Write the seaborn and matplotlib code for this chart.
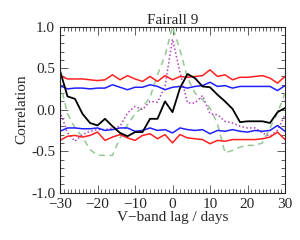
import numpy as np
import pandas as pd
import matplotlib
matplotlib.use('Agg')
import matplotlib.pyplot as plt
import seaborn as sns
from matplotlib.ticker import MultipleLocator

# lag grid (days)
lags = list(range(-30, 31, 2))

black_ccf = [0.47, 0.16, 0.13, -0.05, -0.16, -0.19, -0.11, -0.20, -0.28, -0.32,
             -0.27, -0.27, -0.11, -0.11, 0.10, -0.03, 0.26, 0.43, 0.38, 0.28,
             0.27, 0.18, 0.10, 0.01, -0.15, -0.14, -0.14, -0.14, -0.16, -0.03, 0.02]

red_upper = [0.41, 0.37, 0.37, 0.37, 0.36, 0.35, 0.36, 0.42, 0.36, 0.41,
             0.37, 0.34, 0.40, 0.34, 0.41, 0.36, 0.40, 0.39, 0.40, 0.41,
             0.48, 0.40, 0.42, 0.36, 0.39, 0.39, 0.40, 0.41, 0.38, 0.32, 0.40]

blue_upper = [0.29, 0.25, 0.26, 0.26, 0.25, 0.26, 0.26, 0.30, 0.27, 0.24,
              0.27, 0.27, 0.30, 0.28, 0.24, 0.27, 0.28, 0.26, 0.28, 0.29,
              0.33, 0.28, 0.29, 0.26, 0.28, 0.28, 0.28, 0.28, 0.28, 0.23, 0.29]

blue_lower = [-0.26, -0.22, -0.22, -0.23, -0.23, -0.22, -0.25, -0.24, -0.22, -0.22,
              -0.26, -0.25, -0.22, -0.25, -0.24, -0.28, -0.22, -0.24, -0.25, -0.24,
              -0.29, -0.25, -0.26, -0.24, -0.26, -0.27, -0.25, -0.26, -0.25, -0.19, -0.26]

red_lower = [-0.37, -0.32, -0.31, -0.33, -0.31, -0.27, -0.37, -0.33, -0.30, -0.34,
             -0.37, -0.31, -0.29, -0.35, -0.30, -0.40, -0.30, -0.34, -0.35, -0.36,
             -0.41, -0.37, -0.38, -0.36, -0.36, -0.36, -0.36, -0.35, -0.33, -0.27, -0.36]

green_acf = [0.33, -0.05, -0.22, -0.33, -0.48, -0.55, -0.55, -0.55, -0.34, -0.18,
             -0.05, 0.03, 0.15, 0.42, 0.65, 1.00, 0.72, 0.38, 0.20, 0.12,
             0.02, -0.17, -0.52, -0.49, -0.45, -0.43, -0.43, -0.40, -0.22, -0.04, 0.20]

purple_acf = [-0.02, -0.28, -0.38, -0.30, -0.26, -0.24, -0.24, -0.22, -0.20, -0.04,
              0.04, 0.00, 0.10, 0.09, 0.28, 0.85, 0.45, 0.08, 0.08, 0.17,
              -0.05, -0.06, -0.14, -0.16, -0.20, -0.22, -0.22, -0.28, -0.32, -0.25, -0.06]

df = pd.DataFrame({'lag': lags, 'black': black_ccf, 'red_up': red_upper,
                   'blue_up': blue_upper, 'blue_lo': blue_lower, 'red_lo': red_lower,
                   'green': green_acf, 'purple': purple_acf})

sns.set_style('ticks')
plt.rcParams['font.family'] = ['Liberation Serif', 'DejaVu Serif']
plt.rcParams['axes.linewidth'] = 0.8

fig = plt.figure(figsize=(3.0, 2.4), dpi=100)
ax = fig.add_axes([0.2, 0.197, 0.75, 0.692])

lw = 1.1
sns.lineplot(x='lag', y='green', data=df, ax=ax, color='#96c896', lw=lw, linestyle=(0, (4, 3)))
sns.lineplot(x='lag', y='purple', data=df, ax=ax, color='#b040c0', lw=lw, linestyle=(0, (1, 1.5)))
sns.lineplot(x='lag', y='red_up', data=df, ax=ax, color='#ff2020', lw=lw)
sns.lineplot(x='lag', y='red_lo', data=df, ax=ax, color='#ff2020', lw=lw)
sns.lineplot(x='lag', y='blue_up', data=df, ax=ax, color='#2020ff', lw=lw)
sns.lineplot(x='lag', y='blue_lo', data=df, ax=ax, color='#2020ff', lw=lw)
sns.lineplot(x='lag', y='black', data=df, ax=ax, color='black', lw=1.3)

ax.set_xlim(-30, 30)
ax.set_ylim(-1, 1)
ax.xaxis.set_major_locator(MultipleLocator(10))
ax.xaxis.set_minor_locator(MultipleLocator(1))
ax.yaxis.set_major_locator(MultipleLocator(0.5))
ax.yaxis.set_minor_locator(MultipleLocator(0.1))
ax.yaxis.set_major_formatter(matplotlib.ticker.FormatStrFormatter('%.1f'))
ax.tick_params(which='both', direction='in', top=True, right=True, labelsize=11, width=0.6, color='#444444')
ax.tick_params(which='major', length=6)
ax.tick_params(which='minor', length=3)

ax.set_title('Fairall 9', fontsize=11, pad=2)
ax.set_xlabel('V\u2212band lag / days', fontsize=11, labelpad=0)
ax.set_ylabel('Correlation', fontsize=11, labelpad=2)

plt.savefig('out.png', dpi=100, facecolor='white')
